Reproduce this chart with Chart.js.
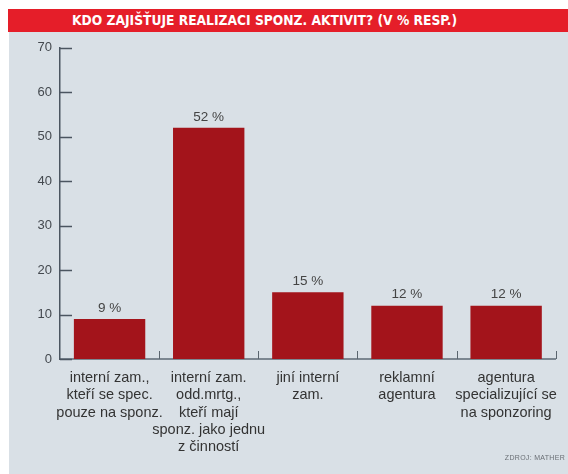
<!DOCTYPE html>
<html>
<head>
<meta charset="utf-8">
<script src="https://cdn.jsdelivr.net/npm/chart.js@4"></script>
<style>
  body { margin: 0; background: #fff; }
  #head {
    position: absolute; left: 8px; top: 9px; width: 560px; height: 23px;
    background: #e51e29; color: #fff;
    font: bold 13.7px "DejaVu Sans Condensed", "DejaVu Sans", sans-serif;
    line-height: 23px; padding-left: 64px; box-sizing: border-box; white-space: nowrap;
  }
  #wrap { position: absolute; left: 9px; top: 32px; width: 559px; height: 442px; background: #d9e0e6; }
  #src {
    position: absolute; right: 3px; bottom: 13px;
    font: 7px "Liberation Sans", sans-serif; color: #6a6f75; letter-spacing: 0.3px;
  }
</style>
</head>
<body>
<div id="head">KDO ZAJIŠŤUJE REALIZACI SPONZ. AKTIVIT? (V % RESP.)</div>
<div id="wrap">
  <canvas id="chart" width="559" height="442"></canvas>
  <div id="src">ZDROJ: MATHER</div>
</div>
<script>
// who runs sponsorship activities, % of respondents
const categories = [
  ["interní zam.,", "kteří se spec.", "pouze na sponz."],
  ["interní zam.", "odd.mrtg.,", "kteří mají", "sponz. jako jednu", "z činností"],
  ["jiní interní", "zam."],
  ["reklamní", "agentura"],
  ["agentura", "specializující se", "na sponzoring"]
];
const shares = [9, 52, 15, 12, 12];
const yTicks = [0, 10, 20, 30, 40, 50, 60, 70];

const FONT = "'Liberation Sans', Arial, sans-serif";

// short tick marks inside the plot + value labels above bars
const marks = {
  id: "marks",
  afterDraw(chart) {
    const ctx = chart.ctx;
    const x = chart.scales.x, y = chart.scales.y;
    const area = chart.chartArea;
    ctx.save();
    ctx.strokeStyle = "#4b5560";
    ctx.lineWidth = 1.5;
    yTicks.forEach(t => {
      const py = Math.round(y.getPixelForValue(t)) + 0.5;
      ctx.beginPath();
      ctx.moveTo(area.left, py);
      ctx.lineTo(area.left + 12, py);
      ctx.stroke();
    });
    ctx.strokeStyle = "#5a656e";
    ctx.lineWidth = 1;
    for (let i = 1; i <= categories.length; i++) {
      const px = i < categories.length
        ? (x.getPixelForValue(i - 1) + x.getPixelForValue(i)) / 2
        : area.right;
      ctx.beginPath();
      ctx.moveTo(Math.round(px) + 0.5, area.bottom);
      ctx.lineTo(Math.round(px) + 0.5, area.bottom - 8);
      ctx.stroke();
    }
    ctx.fillStyle = "#444";
    ctx.font = "13.5px " + FONT;
    ctx.textAlign = "center";
    ctx.textBaseline = "middle";
    chart.getDatasetMeta(0).data.forEach((bar, i) => {
      ctx.fillText(shares[i] + " %", bar.x, bar.y - 11);
    });
    ctx.restore();
  }
};

new Chart(document.getElementById("chart"), {
  type: "bar",
  data: {
    labels: categories,
    datasets: [{
      data: shares,
      backgroundColor: "#a3141b",
      categoryPercentage: 0.72,
      barPercentage: 1
    }]
  },
  options: {
    responsive: false,
    animation: false,
    layout: { padding: { top: 13, right: 11, left: 0, bottom: 0 } },
    plugins: { legend: { display: false }, tooltip: { enabled: false } },
    scales: {
      x: {
        grid: { display: false, drawTicks: false },
        border: { color: "#7c8791", width: 2 },
        ticks: {
          color: "#333",
          font: { family: FONT, size: 14.5, lineHeight: 1.2 },
          padding: 10,
          maxRotation: 0,
          autoSkip: false
        },
        afterFit(s) { s.height = 115; }
      },
      y: {
        min: 0,
        max: 70,
        grid: { display: false, drawTicks: false },
        border: { color: "#4b5560", width: 1.5 },
        afterBuildTicks(s) { s.ticks = yTicks.map(v => ({ value: v })); },
        ticks: {
          color: "#44494f",
          font: { family: FONT, size: 13 },
          padding: 8
        },
        afterFit(s) { s.width = 51; }
      }
    }
  },
  plugins: [marks]
});
</script>
</body>
</html>
